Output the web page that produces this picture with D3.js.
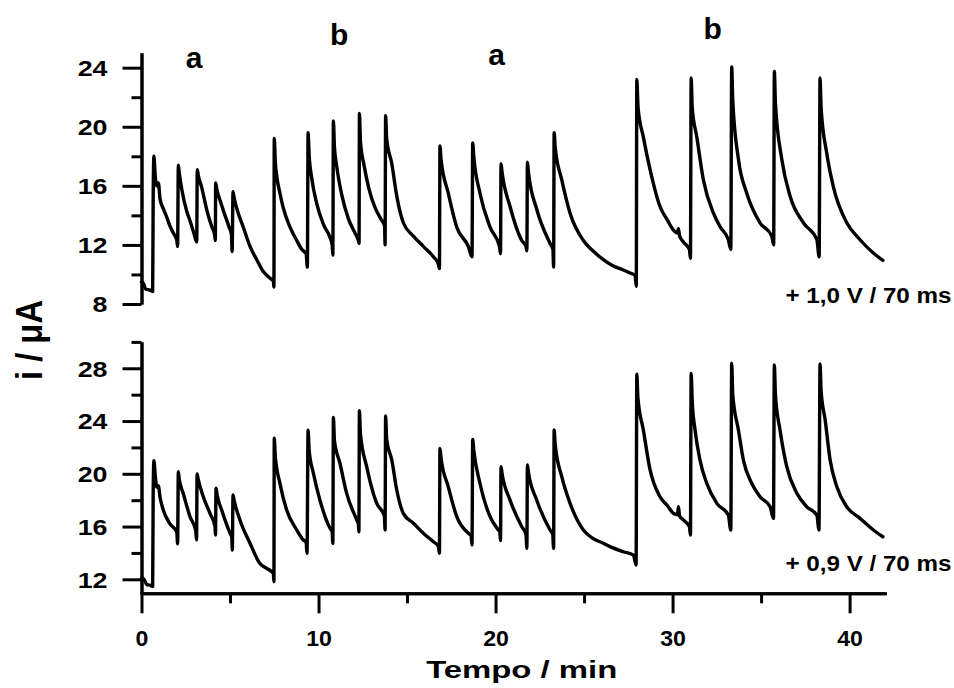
<!DOCTYPE html>
<html><head><meta charset="utf-8">
<script src="https://cdn.jsdelivr.net/npm/d3@7"></script>
<style>
body{margin:0;background:#fff}
svg{display:block}
text{font-family:"Liberation Sans",Arial,sans-serif;font-weight:bold;fill:#000}
</style>
</head><body>
<svg id="c" width="954" height="688"></svg>
<script>
// ---- data ----
const xTicks = [0, 10, 20, 30, 40];
const xMinor = [5, 15, 25, 35];
const topTicks = [8, 12, 16, 20, 24];
const topMinor = [10, 14, 18, 22];
const botTicks = [12, 16, 20, 24, 28];
const botMinor = [14, 18, 22, 26, 30];
const xTitle = "Tempo / min";
const yTitle = "i / \u03bcA";
const topCondition = "+ 1,0 V / 70 ms";
const botCondition = "+ 0,9 V / 70 ms";
const sampleLabels = [
  {t: 2.97, v: 24.0, s: "a"},
  {t: 11.16, v: 25.54, s: "b"},
  {t: 20.06, v: 24.18, s: "a"},
  {t: 32.26, v: 25.92, s: "b"}
];
// time (min), current (uA) at +1,0 V
const topTrace = [
[0.00,9.5],[0.10,9.4],[0.25,9.0],[0.45,8.95],[0.63,8.85],
[0.66,15.2],[0.70,18.0],[0.78,16.6],[0.86,16.0],[0.95,16.2],[1.05,15.1],[1.25,14.4],[1.42,13.9],[1.60,13.3],[1.80,12.8],[1.99,12.35],[2.04,11.9],
[2.08,17.4],[2.13,16.9],[2.27,15.8],[2.55,14.3],[2.75,13.6],[2.93,12.9],[3.08,12.3],[3.12,12.2],
[3.15,17.1],[3.21,16.7],[3.40,15.9],[3.68,14.4],[3.98,13.2],[4.13,12.7],[4.17,12.3],
[4.19,16.2],[4.25,15.8],[4.44,15.0],[4.72,14.0],[4.95,13.2],[5.08,12.7],[5.12,11.55],
[5.17,15.6],[5.23,15.2],[5.40,14.4],[5.75,13.2],[6.13,11.9],[6.51,11.0],[6.88,10.2],[7.26,9.75],[7.45,9.55],[7.48,9.15],
[7.50,19.2],[7.56,17.6],[7.66,16.5],[7.82,15.5],[8.01,14.5],[8.39,13.2],[8.77,12.3],[9.05,11.7],[9.30,11.4],[9.37,10.5],
[9.41,19.6],[9.47,18.1],[9.62,16.5],[9.90,14.8],[10.27,13.4],[10.65,12.5],[10.77,12.0],[10.81,11.3],
[10.84,20.4],[10.90,18.6],[11.03,17.3],[11.31,15.4],[11.68,13.8],[12.06,12.8],[12.25,12.3],[12.29,12.1],
[12.31,20.9],[12.37,19.0],[12.57,17.4],[12.85,15.8],[13.20,14.5],[13.55,13.7],[13.73,13.3],[13.76,12.0],
[13.79,20.75],[13.85,19.2],[14.14,17.5],[14.42,15.3],[14.79,13.5],[15.36,12.6],[15.92,11.9],[16.49,11.2],[16.77,10.7],[16.83,10.4],
[16.86,18.7],[16.92,17.8],[17.33,15.5],[17.81,13.2],[18.46,11.9],[18.67,11.2],
[18.71,18.9],[18.77,18.0],[19.12,15.5],[19.69,13.2],[20.22,11.9],[20.28,11.4],
[20.31,17.5],[20.37,16.9],[20.82,14.6],[21.48,12.3],[21.72,11.9],[21.77,11.6],
[21.80,17.6],[21.86,16.9],[22.33,14.4],[23.08,12.1],[23.24,11.7],[23.28,10.5],
[23.31,19.6],[23.37,18.6],[23.74,16.4],[24.21,14.15],[24.96,12.3],[25.50,11.6],[26.09,11.0],[26.60,10.6],[27.22,10.3],[27.60,10.1],[27.88,9.95],[27.95,9.2],
[27.98,23.2],[28.05,21.3],[28.35,19.3],[28.73,17.1],[29.29,14.6],[29.70,13.7],[30.05,13.0],[30.28,12.8],[30.33,13.1],[30.40,12.6],[30.61,12.2],[30.95,11.7],[31.01,11.1],
[31.05,23.3],[31.11,21.3],[31.37,19.3],[31.74,16.4],[32.31,14.15],[32.70,13.2],[33.15,12.35],[33.29,11.7],
[33.34,24.05],[33.40,21.8],[33.72,17.8],[34.19,15.5],[34.94,13.5],[35.60,12.6],[35.71,12.0],
[35.75,23.75],[35.81,21.6],[36.17,17.8],[36.64,15.3],[37.39,13.5],[38.15,12.35],[38.28,11.2],
[38.33,23.3],[38.39,21.3],[38.71,18.2],[39.08,15.95],[39.84,13.5],[40.59,12.35],[41.34,11.45],[41.88,10.95]
];
// time (min), current (uA) at +0,9 V
const botTrace = [
[0.00,12.1],[0.10,12.08],[0.30,11.6],[0.50,11.55],[0.63,11.45],
[0.66,18.5],[0.70,21.0],[0.78,19.8],[0.86,19.0],[0.95,19.1],[1.05,18.2],[1.23,17.25],[1.61,16.2],[1.99,15.6],[2.04,14.7],
[2.08,20.16],[2.13,19.6],[2.36,18.5],[2.74,16.75],[3.06,15.7],[3.11,15.0],
[3.14,19.98],[3.20,19.6],[3.49,18.26],[3.87,17.0],[4.15,16.0],[4.18,15.36],
[4.21,18.9],[4.27,18.4],[4.53,17.25],[5.00,15.5],[5.10,15.2],[5.13,14.22],
[5.17,18.4],[5.23,18.0],[5.56,16.5],[6.13,14.73],[6.69,13.2],[7.07,12.83],[7.45,12.45],[7.48,11.82],
[7.50,22.7],[7.56,21.3],[7.82,19.28],[8.20,17.25],[8.77,15.74],[9.14,14.98],[9.30,14.8],[9.35,13.97],
[9.41,23.3],[9.47,21.8],[9.71,20.04],[10.08,18.0],[10.65,15.87],[10.77,15.6],[10.81,14.73],
[10.84,24.28],[10.90,22.5],[11.21,20.8],[11.59,18.52],[12.16,16.5],[12.25,16.2],[12.28,15.6],
[12.31,24.78],[12.37,23.0],[12.72,20.54],[13.29,17.76],[13.66,17.0],[13.72,16.8],[13.76,15.74],
[13.79,24.38],[13.85,22.6],[14.14,21.04],[14.42,18.77],[14.79,17.0],[15.36,16.25],[15.92,15.49],[16.49,14.85],[16.77,14.5],[16.83,13.97],
[16.86,21.93],[16.92,21.2],[17.33,19.02],[17.81,16.75],[18.46,15.49],[18.62,15.3],[18.67,14.6],
[18.71,22.61],[18.77,21.8],[19.12,19.28],[19.69,16.75],[20.16,15.74],[20.24,15.6],[20.28,14.93],
[20.31,20.54],[20.37,20.0],[20.82,18.0],[21.48,16.0],[21.72,15.4],[21.77,14.35],
[21.80,20.67],[21.86,20.1],[22.33,18.0],[23.08,15.74],[23.23,15.4],[23.28,14.35],
[23.31,23.32],[23.37,22.2],[23.74,19.78],[24.21,17.76],[24.96,15.74],[25.50,15.1],[26.09,14.73],[26.60,14.4],[27.22,14.09],[27.79,13.84],[27.94,13.08],
[27.98,27.56],[28.04,25.8],[28.35,23.32],[28.73,20.29],[29.29,18.26],[29.70,17.6],[30.05,17.0],[30.28,16.9],[30.33,17.5],[30.40,16.8],[30.61,16.5],[30.95,16.0],[31.01,15.36],
[31.05,27.6],[31.11,25.5],[31.27,23.32],[31.55,21.04],[31.93,19.28],[32.50,17.76],[33.15,16.87],[33.29,15.74],
[33.34,28.38],[33.40,26.0],[33.72,23.32],[34.00,21.04],[34.47,19.28],[34.94,18.26],[35.51,17.5],[35.70,16.62],
[35.75,28.25],[35.81,26.0],[36.07,23.32],[36.45,20.54],[37.02,18.52],[37.58,17.5],[38.15,16.87],[38.27,15.74],
[38.33,28.32],[38.39,26.3],[38.62,24.08],[38.90,21.04],[39.28,19.02],[39.84,17.5],[40.59,16.62],[41.34,15.74],[41.88,15.23]
];

// ---- drawing ----
const svg = d3.select("#c");
const x = d3.scaleLinear().domain([0, 42]).range([141.5, 885]);
const yTop = d3.scaleLinear().domain([8, 25]).range([304, 52.9]);
const yBot = d3.scaleLinear().domain([10.94, 30]).range([593.3, 341.9]);

function styleAxis(g) {
  g.selectAll("path.domain").attr("stroke", "#000").attr("stroke-width", 3);
  g.selectAll(".tick line").attr("stroke", "#000").attr("stroke-width", 3);
}

function yAxis(scale, major, minor) {
  const gMin = svg.append("g").attr("transform", "translate(141.5,0)")
    .call(d3.axisLeft(scale).tickValues(minor).tickSize(10).tickSizeOuter(0).tickFormat(""));
  styleAxis(gMin);
  const g = svg.append("g").attr("transform", "translate(141.5,0)")
    .call(d3.axisLeft(scale).tickValues(major).tickSize(19).tickSizeOuter(0).tickFormat(d3.format("d")));
  styleAxis(g);
  g.selectAll("text").attr("x", 0).attr("dy", "0.36em")
    .attr("font-size", 22).attr("font-family", "Liberation Sans, Arial, sans-serif")
    .attr("font-weight", "bold")
    .attr("transform", "translate(-34,0) scale(1.22,1)");
}
yAxis(yTop, topTicks, topMinor);
yAxis(yBot, botTicks, botMinor);

const gxMin = svg.append("g").attr("transform", "translate(0,593.3)")
  .call(d3.axisBottom(x).tickValues(xMinor).tickSize(10).tickSizeOuter(0).tickFormat(""));
styleAxis(gxMin);
const gx = svg.append("g").attr("transform", "translate(0,593.3)")
  .call(d3.axisBottom(x).tickValues(xTicks).tickSize(20).tickSizeOuter(0).tickFormat(d3.format("d")));
styleAxis(gx);
gx.selectAll("path.domain").attr("stroke-linecap", "square");
gx.selectAll("text").attr("y", 0).attr("dy", 0)
  .attr("font-size", 22).attr("font-family", "Liberation Sans, Arial, sans-serif")
  .attr("font-weight", "bold")
  .attr("transform", "translate(0,53) scale(1.05,1)");

const lineTop = d3.line().curve(d3.curveMonotoneX).x(d => x(d[0])).y(d => yTop(d[1]));
const lineBot = d3.line().curve(d3.curveMonotoneX).x(d => x(d[0])).y(d => yBot(d[1]));
svg.append("path").datum(topTrace).attr("d", lineTop)
  .attr("fill", "none").attr("stroke", "#000").attr("stroke-width", 3.4)
  .attr("stroke-linejoin", "round").attr("stroke-linecap", "round");
svg.append("path").datum(botTrace).attr("d", lineBot)
  .attr("fill", "none").attr("stroke", "#000").attr("stroke-width", 3.4)
  .attr("stroke-linejoin", "round").attr("stroke-linecap", "round");

svg.selectAll("text.lab").data(sampleLabels).join("text").attr("class", "lab")
  .attr("x", d => x(d.t)).attr("y", d => yTop(d.v))
  .attr("text-anchor", "middle").attr("font-size", 30).text(d => d.s);

svg.append("text").attr("text-anchor", "end").attr("font-size", 22)
  .attr("transform", "translate(951.5,303.3) scale(1.1,1)").text(topCondition);
svg.append("text").attr("text-anchor", "end").attr("font-size", 22)
  .attr("transform", "translate(951.5,570.7) scale(1.1,1)").text(botCondition);

svg.append("text").attr("text-anchor", "middle").attr("font-size", 24)
  .attr("transform", "translate(521.7,678.3) scale(1.37,1)").text(xTitle);
svg.append("text").attr("text-anchor", "middle").attr("font-size", 28)
  .attr("transform", "translate(41.5,340) rotate(-90) scale(1.17,1.3)").text(yTitle);
</script>
</body></html>
